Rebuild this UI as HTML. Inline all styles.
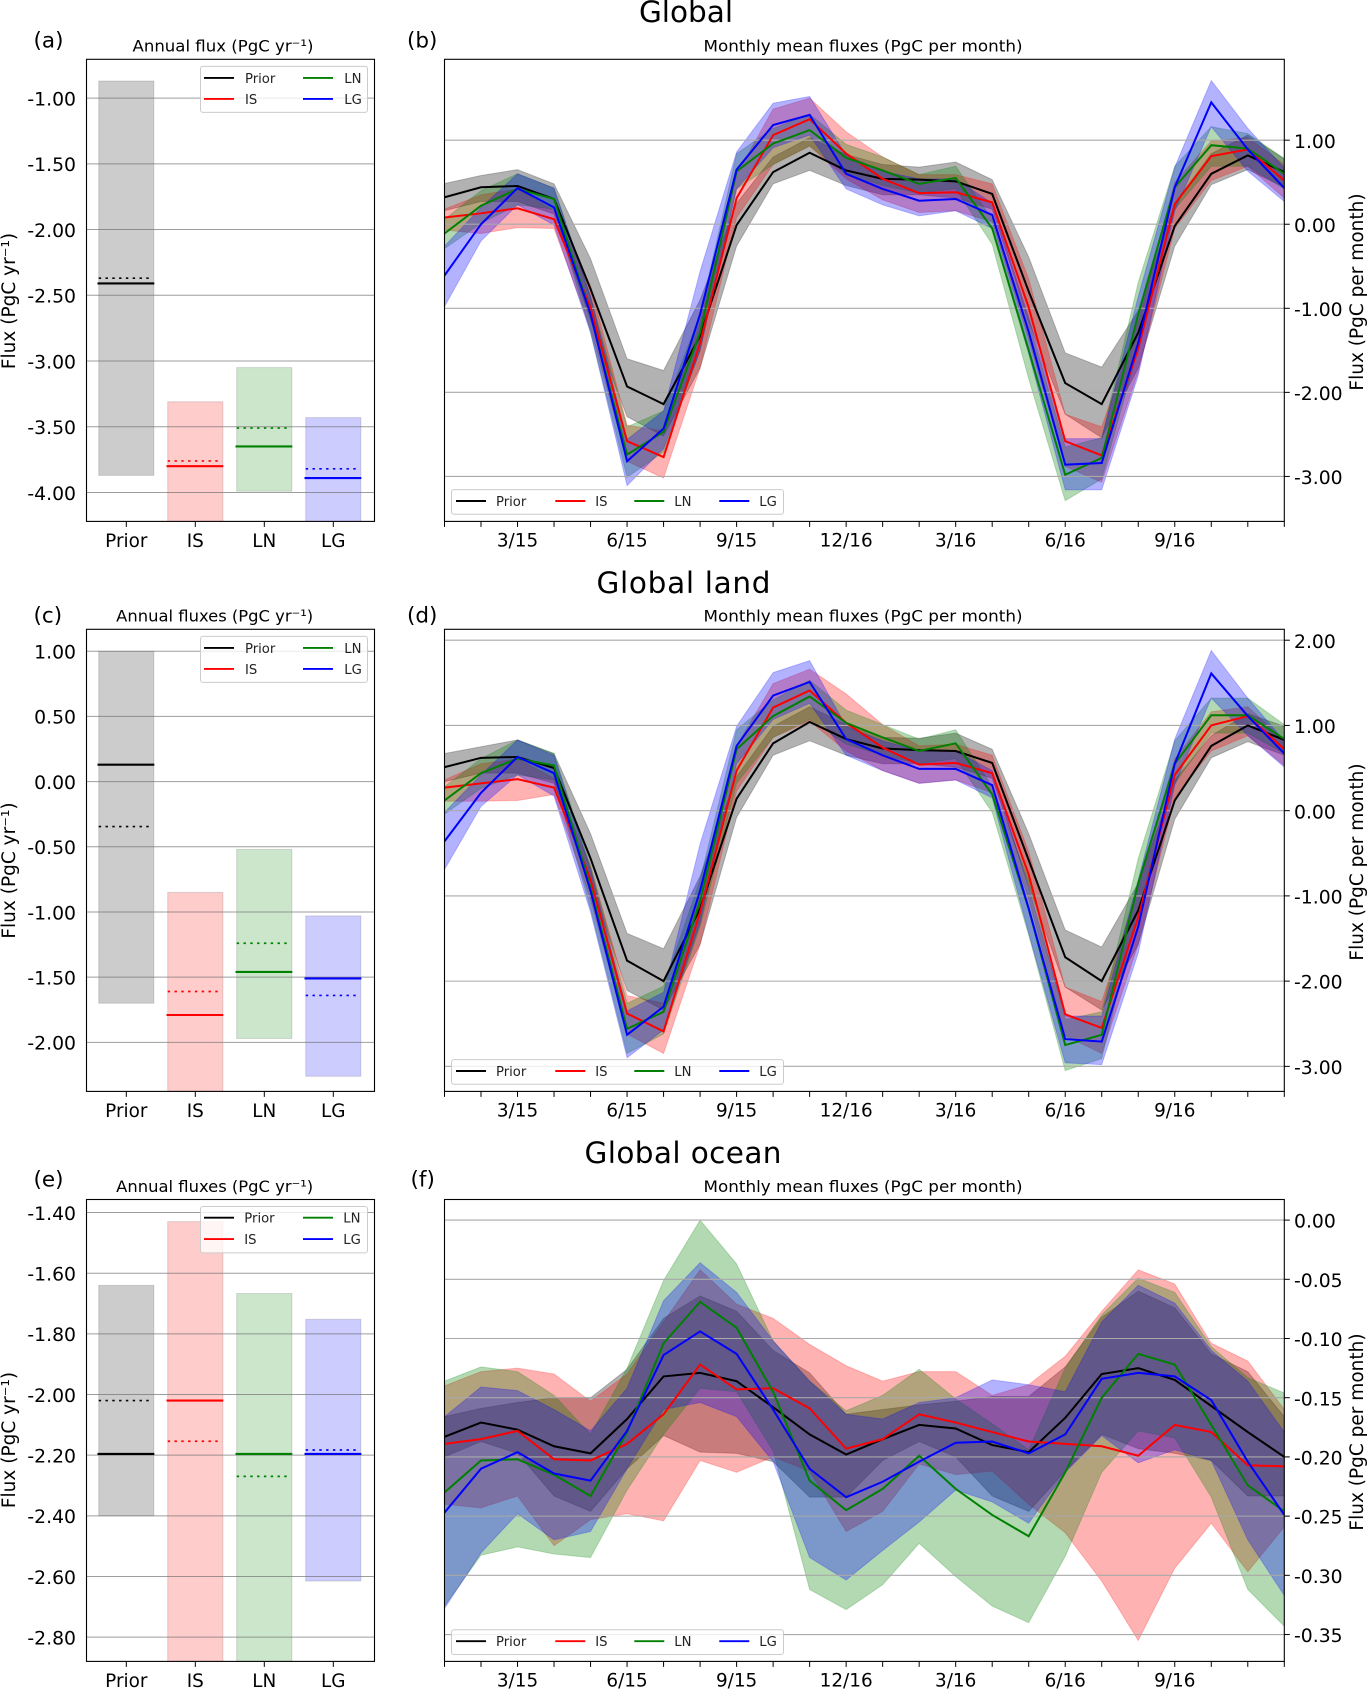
<!DOCTYPE html>
<html lang="en">
<head>
<meta charset="utf-8">
<title>Global, land and ocean carbon fluxes</title>
<style>
html,body{margin:0;padding:0;background:#fff;}
svg{display:block;font-family:"DejaVu Sans","Liberation Sans",sans-serif;}
</style>
</head>
<body>
<svg id="figure" xmlns="http://www.w3.org/2000/svg" width="1368" height="1689" viewBox="0 0 1368 1689">
  <rect x="0" y="0" width="1368" height="1689" fill="#fff"/>
  <text x="686" y="22" font-size="29.5" text-anchor="middle">Global</text>
  <text x="683.5" y="593" font-size="29.5" text-anchor="middle" xml:space="preserve" textLength="174" lengthAdjust="spacing">Global land</text>
  <text x="683" y="1163" font-size="29.5" text-anchor="middle" textLength="197" lengthAdjust="spacing">Global ocean</text>

  <text x="33.5" y="47.5" font-size="21.5">(a)</text>
  <text x="407" y="47.5" font-size="21.5">(b)</text>
  <text x="33.5" y="622.5" font-size="21.5">(c)</text>
  <text x="407" y="622.5" font-size="21.5">(d)</text>
  <text x="33.5" y="1186.5" font-size="21.5">(e)</text>
  <text x="410.5" y="1186.5" font-size="21.5">(f)</text>

  <text x="223" y="51.5" font-size="16" text-anchor="middle" textLength="181" lengthAdjust="spacingAndGlyphs">Annual flux (PgC yr⁻¹)</text>
  <text x="214.7" y="621.5" font-size="16" text-anchor="middle" textLength="197" lengthAdjust="spacingAndGlyphs">Annual fluxes (PgC yr⁻¹)</text>
  <text x="214.7" y="1192" font-size="16" text-anchor="middle" textLength="197" lengthAdjust="spacingAndGlyphs">Annual fluxes (PgC yr⁻¹)</text>
  <text x="863" y="51.5" font-size="16" text-anchor="middle" textLength="319" lengthAdjust="spacingAndGlyphs">Monthly mean fluxes (PgC per month)</text>
  <text x="863" y="621.5" font-size="16" text-anchor="middle" textLength="319" lengthAdjust="spacingAndGlyphs">Monthly mean fluxes (PgC per month)</text>
  <text x="863" y="1192" font-size="16" text-anchor="middle" textLength="319" lengthAdjust="spacingAndGlyphs">Monthly mean fluxes (PgC per month)</text>

  <text transform="translate(15,301) rotate(-90)" font-size="18.5" text-anchor="middle">Flux (PgC yr⁻¹)</text>
  <text transform="translate(15,870.5) rotate(-90)" font-size="18.5" text-anchor="middle">Flux (PgC yr⁻¹)</text>
  <text transform="translate(15,1440) rotate(-90)" font-size="18.5" text-anchor="middle">Flux (PgC yr⁻¹)</text>
  <text transform="translate(1363,292) rotate(-90)" font-size="18.5" text-anchor="middle">Flux (PgC per month)</text>
  <text transform="translate(1363,862) rotate(-90)" font-size="18.5" text-anchor="middle">Flux (PgC per month)</text>
  <text transform="translate(1363,1432) rotate(-90)" font-size="18.5" text-anchor="middle">Flux (PgC per month)</text>
  <defs id="clip-defs"></defs>
</svg>
<script>
// ---------- shared categories ----------
const annualCategories = ['Prior','IS','LN','LG'];
const seriesLabels = ['Prior','IS','LN','LG'];
const months = ['1/15','2/15','3/15','4/15','5/15','6/15','7/15','8/15','9/15','10/15','11/15','12/15','1/16','2/16','3/16','4/16','5/16','6/16','7/16','8/16','9/16','10/16','11/16','12/16'];
const monthTickLabels = ['3/15','6/15','9/15','12/16','3/16','6/16','9/16'];
const monthTickIndex = [2,5,8,11,14,17,20];

// ---------- panel (a) annual, global ----------
const aTicks = [-1,-1.5,-2,-2.5,-3,-3.5,-4];
const aTop = [-0.87,-3.31,-3.05,-3.43];
const aBottom = [-3.87,-4.31,-3.99,-4.37];
const aSolid = [-2.41,-3.80,-3.65,-3.89];
const aDotted = [-2.37,-3.76,-3.51,-3.82];

// ---------- panel (c) annual, land ----------
const cTicks = [1,0.5,0,-0.5,-1,-1.5,-2];
const cTop = [1.0,-0.85,-0.52,-1.03];
const cBottom = [-1.70,-2.70,-1.97,-2.26];
const cSolid = [0.13,-1.79,-1.46,-1.51];
const cDotted = [-0.345,-1.61,-1.24,-1.64];

// ---------- panel (e) annual, ocean ----------
const eTicks = [-1.4,-1.6,-1.8,-2.0,-2.2,-2.4,-2.6,-2.8];
const eTop = [-1.64,-1.43,-1.667,-1.752];
const eBottom = [-2.40,-3.0,-2.95,-2.615];
const eSolid = [-2.196,-2.02,-2.196,-2.196];
const eDotted = [-2.02,-2.154,-2.27,-2.183];

// ---------- panel (b) monthly, global ----------
const bTicks = [1,0,-1,-2,-3];
const bPriorMean = [.32,.44,.455,.30,-.77,-1.93,-2.14,-1.33,-.01,.62,.85,.64,.54,.53,.51,.36,-.80,-1.89,-2.14,-1.29,-.02,.60,.82,.62];
const bPriorUpper = [.485,.58,.65,.48,-.41,-1.60,-1.74,-.90,.25,.80,1.03,.83,.71,.68,.74,.53,-.39,-1.53,-1.70,-1.03,.25,.84,1.06,.78];
const bPriorLower = [.16,.27,.27,.12,-1.14,-2.29,-2.52,-1.71,-.26,.48,.64,.46,.35,.35,.31,.18,-1.16,-2.26,-2.54,-1.71,-.26,.47,.65,.44];
const bIsMean = [.08,.13,.19,.06,-.99,-2.58,-2.77,-1.41,.31,1.06,1.25,.84,.54,.37,.38,.26,-.99,-2.58,-2.75,-1.48,.24,.81,.89,.52];
const bIsUpper = [.18,.35,.42,.16,-.73,-2.39,-2.46,-1.16,.59,1.37,1.50,1.10,.80,.59,.59,.48,-.65,-2.26,-2.41,-1.16,.50,.99,1.03,.71];
const bIsLower = [-.07,-.11,-.04,-.05,-1.24,-2.82,-3.02,-1.71,.08,.71,.93,.54,.29,.14,.16,.03,-1.37,-2.88,-3.07,-1.75,-.05,.52,.69,.31];
const bLnMean = [-.11,.22,.42,.30,-1.07,-2.74,-2.47,-1.29,.63,.96,1.12,.79,.64,.48,.55,-.05,-1.50,-2.98,-2.78,-1.07,.44,.94,.90,.60];
const bLnUpper = [.06,.40,.60,.43,-.86,-2.41,-2.22,-1.07,.84,1.14,1.31,.95,.80,.59,.69,.06,-1.16,-2.65,-2.54,-.69,.69,1.16,1.08,.78];
const bLnLower = [-.29,.01,.23,.18,-1.29,-3.01,-2.71,-1.50,.42,.71,.93,.59,.46,.37,.42,-.24,-1.84,-3.29,-3.03,-1.48,.18,.69,.69,.42];
const bLgMean = [-.61,.00,.43,.20,-1.07,-2.82,-2.43,-1.07,.65,1.18,1.30,.60,.42,.28,.30,.11,-1.28,-2.86,-2.84,-1.41,.44,1.45,.89,.43];
const bLgUpper = [-.26,.20,.60,.43,-.86,-2.56,-2.22,-.56,.86,1.44,1.52,.82,.63,.54,.54,.25,-1.11,-2.55,-2.55,-.86,.68,1.71,1.14,.67];
const bLgLower = [-.98,-.20,.23,-.01,-1.29,-3.11,-2.67,-1.50,.42,.91,1.06,.42,.23,.10,.16,-.05,-1.54,-3.16,-3.16,-1.80,.16,1.16,.63,.27];

// ---------- panel (d) monthly, land ----------
const dTicks = [2,1,0,-1,-2,-3];
const dPriorMean = [.51,.62,.63,.50,-.56,-1.76,-2.0,-1.15,.14,.79,1.04,.84,.73,.71,.70,.56,-.58,-1.72,-2.0,-1.17,.12,.76,1.0,.83];
const dPriorUpper = [.67,.75,.83,.67,-.27,-1.44,-1.62,-.77,.40,.99,1.22,1.01,.86,.85,.91,.72,-.27,-1.40,-1.60,-.85,.36,.88,1.14,.99];
const dPriorLower = [.34,.44,.44,.32,-.85,-2.11,-2.34,-1.57,-.08,.65,.82,.65,.55,.55,.51,.38,-.88,-2.07,-2.34,-1.57,-.10,.62,.81,.65];
const dIsMean = [.27,.32,.37,.27,-.81,-2.38,-2.59,-1.19,.47,1.21,1.41,1.03,.74,.54,.56,.44,-.75,-2.39,-2.55,-1.25,.42,1.0,1.11,.72];
const dIsUpper = [.36,.55,.61,.38,-.65,-2.17,-2.26,-.94,.76,1.49,1.66,1.37,1.01,.76,.78,.65,-.48,-2.07,-2.24,-.90,.61,1.16,1.22,.82];
const dIsLower = [.11,.11,.12,.19,-1.04,-2.62,-2.85,-1.57,.23,.86,1.05,.70,.47,.32,.36,.21,-1.04,-2.64,-2.85,-1.57,.15,.70,.88,.53];
const dLnMean = [.12,.44,.61,.53,-.90,-2.56,-2.36,-1.06,.72,1.11,1.34,1.03,.86,.70,.79,.19,-1.15,-2.75,-2.63,-.85,.55,1.12,1.12,.84];
const dLnUpper = [.28,.61,.83,.67,-.65,-2.26,-2.06,-.81,.95,1.30,1.53,1.18,1.01,.84,.95,.28,-.81,-2.45,-2.36,-.56,.82,1.32,1.32,1.01];
const dLnLower = [-.04,.26,.42,.36,-1.15,-2.85,-2.62,-1.36,.32,.86,1.07,.78,.65,.55,.61,-.02,-1.46,-3.05,-2.91,-1.15,.32,.91,.91,.67];
const dLgMean = [-.36,.21,.63,.44,-.94,-2.63,-2.30,-.94,.76,1.35,1.51,.84,.65,.49,.49,.30,-1.15,-2.68,-2.71,-1.36,.55,1.61,1.11,.67];
const dLgUpper = [-.02,.42,.83,.65,-.69,-2.35,-2.13,-.39,.99,1.62,1.76,.99,.82,.70,.70,.47,-.90,-2.41,-2.41,-.81,.84,1.88,1.32,.82];
const dLgLower = [-.69,.05,.42,.17,-1.19,-2.90,-2.57,-1.32,.55,1.07,1.26,.65,.47,.32,.36,.15,-1.44,-2.96,-2.98,-1.67,.30,1.32,.88,.51];

// ---------- panel (f) monthly, ocean ----------
const fTicks = [0,-0.05,-0.10,-0.15,-0.20,-0.25,-0.30,-0.35];
const fPriorMean = [-.183,-.171,-.177,-.191,-.197,-.168,-.132,-.129,-.136,-.158,-.181,-.198,-.185,-.173,-.176,-.190,-.196,-.167,-.130,-.125,-.135,-.157,-.179,-.200];
const fPriorUpper = [-.166,-.159,-.154,-.150,-.150,-.126,-.083,-.064,-.077,-.110,-.129,-.164,-.160,-.156,-.153,-.149,-.149,-.124,-.082,-.060,-.074,-.113,-.128,-.166];
const fPriorLower = [-.200,-.187,-.197,-.233,-.246,-.210,-.182,-.196,-.197,-.204,-.234,-.234,-.203,-.187,-.200,-.233,-.246,-.212,-.181,-.193,-.197,-.203,-.233,-.233];
const fIsMean = [-.189,-.185,-.178,-.202,-.203,-.189,-.164,-.122,-.143,-.142,-.159,-.193,-.185,-.164,-.171,-.179,-.187,-.189,-.191,-.199,-.173,-.179,-.207,-.208];
const fIsUpper = [-.140,-.128,-.125,-.130,-.153,-.130,-.086,-.042,-.071,-.083,-.105,-.123,-.136,-.128,-.128,-.148,-.139,-.115,-.077,-.042,-.054,-.104,-.119,-.160];
const fIsLower = [-.240,-.243,-.233,-.275,-.253,-.248,-.254,-.203,-.213,-.200,-.212,-.263,-.246,-.206,-.215,-.212,-.240,-.264,-.305,-.355,-.294,-.256,-.297,-.259];
const fLnMean = [-.230,-.203,-.202,-.215,-.233,-.179,-.104,-.069,-.091,-.145,-.220,-.245,-.227,-.199,-.227,-.249,-.267,-.213,-.150,-.113,-.122,-.173,-.224,-.246];
const fLnUpper = [-.136,-.124,-.128,-.148,-.181,-.125,-.051,0,-.037,-.102,-.136,-.161,-.148,-.126,-.151,-.172,-.194,-.125,-.080,-.049,-.061,-.107,-.133,-.146];
const fLnLower = [-.326,-.283,-.276,-.282,-.285,-.228,-.181,-.142,-.145,-.195,-.312,-.329,-.308,-.273,-.301,-.326,-.340,-.284,-.213,-.178,-.184,-.234,-.312,-.343];
const fLgMean = [-.247,-.210,-.196,-.214,-.220,-.178,-.114,-.094,-.113,-.160,-.210,-.234,-.221,-.204,-.188,-.187,-.197,-.181,-.134,-.129,-.132,-.152,-.204,-.249];
const fLgUpper = [-.166,-.141,-.144,-.160,-.178,-.142,-.068,-.036,-.061,-.102,-.136,-.164,-.168,-.154,-.150,-.135,-.139,-.145,-.086,-.055,-.070,-.110,-.136,-.179];
const fLgLower = [-.328,-.281,-.248,-.270,-.263,-.210,-.160,-.154,-.166,-.204,-.285,-.304,-.279,-.255,-.228,-.238,-.256,-.213,-.182,-.205,-.194,-.203,-.270,-.317];

// ---------- drawing ----------
const NS = 'http://www.w3.org/2000/svg';
const svg = document.getElementById('figure');
const clipDefs = document.getElementById('clip-defs');
const seriesColors = ['#000000','#ff0000','#008000','#0000ff'];

function mk(tag, attrs, parent) {
  const el = document.createElementNS(NS, tag);
  for (const k in attrs) el.setAttribute(k, attrs[k]);
  (parent || svg).appendChild(el);
  return el;
}
function linear(d0, d1, r0, r1) {
  return function (v) { return r0 + (v - d0) * (r1 - r0) / (d1 - d0); };
}
function points(xs, ys) {
  return xs.map(function (x, i) { return x.toFixed(2) + ',' + ys[i].toFixed(2); }).join(' ');
}
function makeClip(id, box) {
  const cp = mk('clipPath', {id: id}, clipDefs);
  mk('rect', {x: box.left, y: box.top, width: box.right - box.left, height: box.bottom - box.top}, cp);
}
function drawFrame(panel, box) {
  const frame = mk('rect', {x: box.left, y: box.top, width: box.right - box.left, height: box.bottom - box.top, fill: 'none', stroke: '#000', 'stroke-width': 1.1});
  
  
}
function drawAnnual(panel, box, ylim, ticks, topVals, bottomVals, solidVals, dottedVals, legendTop, legendRows, legendTextX) {
  const clipId = 'clip-' + panel;
  makeClip(clipId, box);
  const y = linear(ylim[0], ylim[1], box.bottom, box.top);
  const x = linear(0, annualCategories.length - 1, box.left + 39.8, box.left + 246.8);
  const halfBand = 27.6;
  const plot = mk('g', {'clip-path': 'url(#' + clipId + ')'});
  
  

  annualCategories.forEach(function (cat, i) {
    const t = y(topVals[i]), b = y(bottomVals[i]);
    const band = mk('rect', {x: x(i) - halfBand, y: t, width: 2 * halfBand, height: b - t, fill: seriesColors[i], 'fill-opacity': 0.2, stroke: '#000', 'stroke-opacity': 0.13, 'stroke-width': 1}, plot);
    
    
  });
  ticks.forEach(function (v) {
    const line = mk('line', {x1: box.left, x2: box.right, y1: y(v), y2: y(v), stroke: '#6e6e6e', 'stroke-opacity': 0.68, 'stroke-width': 1}, plot);
    
    
    const label = mk('text', {x: 76, y: y(v) + 7.3, 'font-size': 18.8, 'text-anchor': 'end'});
    label.textContent = v.toFixed(2);
    
    
  });
  annualCategories.forEach(function (cat, i) {
    const dotted = mk('line', {x1: x(i) - halfBand, x2: x(i) + halfBand - 3, y1: y(dottedVals[i]), y2: y(dottedVals[i]), stroke: seriesColors[i], 'stroke-width': 1.7, 'stroke-dasharray': '2.4 4.4'}, plot);
    
    
    const solid = mk('line', {x1: x(i) - halfBand - 1.2, x2: x(i) + halfBand + 0.4, y1: y(solidVals[i]), y2: y(solidVals[i]), stroke: seriesColors[i], 'stroke-width': 2.1}, plot);
    
    
    const tick = mk('line', {x1: x(i), x2: x(i), y1: box.bottom, y2: box.bottom + 5.5, stroke: '#000', 'stroke-width': 1});
    
    
    const label = mk('text', {x: x(i), y: box.bottom + 25.5, 'font-size': 18.4, 'text-anchor': 'middle'});
    label.textContent = cat;
    
    
  });
  drawFrame(panel, box);

  const legend = mk('g', {});
  
  
  mk('rect', {x: 200.5, y: legendTop, width: 167, height: legendRows[1] - legendRows[0] + 25, rx: 2.5, fill: '#fff', 'fill-opacity': 0.8, stroke: '#cccccc', 'stroke-width': 1}, legend);
  const colX = [204, 303], textX = legendTextX;
  seriesLabels.forEach(function (name, i) {
    const c = i < 2 ? 0 : 1, r = i % 2;
    const ln = mk('line', {x1: colX[c], x2: colX[c] + 30, y1: legendRows[r], y2: legendRows[r], stroke: seriesColors[i], 'stroke-width': 1.9}, legend);
    
    
    const t = mk('text', {x: textX[c], y: legendRows[r] + 5, 'font-size': 13.2, fill: '#222'}, legend);
    t.textContent = name;
    
    
  });
}
function drawMonthly(panel, box, ylim, ticks, series, legendTop) {
  const clipId = 'clip-' + panel;
  makeClip(clipId, box);
  const y = linear(ylim[0], ylim[1], box.bottom, box.top);
  const x = linear(0, months.length - 1, box.left, box.right);
  const xs = months.map(function (m, i) { return x(i); });
  const plot = mk('g', {'clip-path': 'url(#' + clipId + ')'});
  
  

  series.forEach(function (s, k) {
    const upperPts = points(xs, s.upper.map(y));
    const lowerPts = points(xs.slice().reverse(), s.lower.slice().reverse().map(y));
    const band = mk('polygon', {points: upperPts + ' ' + lowerPts, fill: seriesColors[k], 'fill-opacity': 0.3, stroke: seriesColors[k], 'stroke-opacity': 0.22, 'stroke-width': 1}, plot);
    
    
  });
  ticks.forEach(function (v) {
    const line = mk('line', {x1: box.left, x2: box.right, y1: y(v), y2: y(v), stroke: '#a9a9a9', 'stroke-width': 1.1}, plot);
    
    
    const tick = mk('line', {x1: box.right, x2: box.right + 5.5, y1: y(v), y2: y(v), stroke: '#000', 'stroke-width': 1});
    
    
    const label = mk('text', {x: 1294, y: y(v) + 7.6, 'font-size': 18.8});
    label.textContent = v.toFixed(2);
    
    
  });
  series.forEach(function (s, k) {
    const line = mk('polyline', {points: points(xs, s.mean.map(y)), fill: 'none', stroke: seriesColors[k], 'stroke-width': 2, 'stroke-linejoin': 'miter'}, plot);
    
    
  });
  months.forEach(function (m, i) {
    const tick = mk('line', {x1: x(i), x2: x(i), y1: box.bottom, y2: box.bottom + 5.5, stroke: '#000', 'stroke-width': 1});
    
    
  });
  monthTickLabels.forEach(function (txt, i) {
    const label = mk('text', {x: x(monthTickIndex[i]), y: box.bottom + 25.3, 'font-size': 18.4, 'text-anchor': 'middle'});
    label.textContent = txt;
    
    
  });
  drawFrame(panel, box);

  const legend = mk('g', {});
  
  
  mk('rect', {x: 451.5, y: legendTop, width: 332, height: 24.7, rx: 2.5, fill: '#fff', 'fill-opacity': 0.8, stroke: '#cccccc', 'stroke-width': 1}, legend);
  const lineX = [456, 555.3, 634.3, 719.3], textX = [496, 595.3, 674.3, 759.3];
  const ly = legendTop + 11.4;
  seriesLabels.forEach(function (name, i) {
    const ln = mk('line', {x1: lineX[i], x2: lineX[i] + 30, y1: ly, y2: ly, stroke: seriesColors[i], 'stroke-width': 1.9}, legend);
    
    
    const t = mk('text', {x: textX[i], y: ly + 5, 'font-size': 13.2, fill: '#222'}, legend);
    t.textContent = name;
    
    
  });
}

const annualX = {left: 86.5, right: 374.5};
const monthlyX = {left: 444.5, right: 1284.3};

drawAnnual('panel-a', {left: annualX.left, right: annualX.right, top: 59.3, bottom: 521.4}, [-4.22, -0.705], aTicks, aTop, aBottom, aSolid, aDotted, 66.4, [77.9, 98.9], [245, 344.3]);
drawAnnual('panel-c', {left: annualX.left, right: annualX.right, top: 629.3, bottom: 1091.4}, [-2.376, 1.168], cTicks, cTop, cBottom, cSolid, cDotted, 636.4, [647.9, 668.9], [245, 344.3]);
drawAnnual('panel-e', {left: annualX.left, right: annualX.right, top: 1199.5, bottom: 1661.4}, [-2.880, -1.357], eTicks, eTop, eBottom, eSolid, eDotted, 1206.5, [1217.7, 1239.1], [244.3, 343.3]);

drawMonthly('panel-b', {left: monthlyX.left, right: monthlyX.right, top: 59.3, bottom: 521.4}, [-3.535, 1.962], bTicks, [
  {mean: bPriorMean, upper: bPriorUpper, lower: bPriorLower},
  {mean: bIsMean, upper: bIsUpper, lower: bIsLower},
  {mean: bLnMean, upper: bLnUpper, lower: bLnLower},
  {mean: bLgMean, upper: bLgUpper, lower: bLgLower}
], 489.6);
drawMonthly('panel-d', {left: monthlyX.left, right: monthlyX.right, top: 629.3, bottom: 1091.4}, [-3.294, 2.128], dTicks, [
  {mean: dPriorMean, upper: dPriorUpper, lower: dPriorLower},
  {mean: dIsMean, upper: dIsUpper, lower: dIsLower},
  {mean: dLnMean, upper: dLnUpper, lower: dLnLower},
  {mean: dLgMean, upper: dLgUpper, lower: dLgLower}
], 1059.6);
drawMonthly('panel-f', {left: monthlyX.left, right: monthlyX.right, top: 1199.5, bottom: 1661.4}, [-0.3727, 0.0174], fTicks, [
  {mean: fPriorMean, upper: fPriorUpper, lower: fPriorLower},
  {mean: fIsMean, upper: fIsUpper, lower: fIsLower},
  {mean: fLnMean, upper: fLnUpper, lower: fLnLower},
  {mean: fLgMean, upper: fLgUpper, lower: fLgLower}
], 1629.8);
</script>
</body>
</html>
